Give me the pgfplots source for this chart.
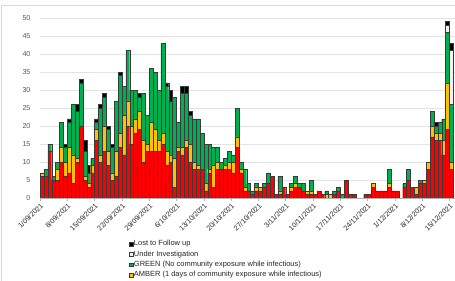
\documentclass[border=0pt]{standalone}
\usepackage{fontspec}
\setmainfont{Liberation Sans}
\usepackage{pgfplots}
\usepackage{pgfplotstable}
\pgfplotsset{compat=1.18}
\definecolor{cRed}{HTML}{FF0000}
\definecolor{cAmber}{HTML}{FFC000}
\definecolor{cGreen}{HTML}{00B050}
\definecolor{cUI}{HTML}{F2F2F2}
\definecolor{cLost}{HTML}{000000}
\definecolor{cTick}{HTML}{595959}
\definecolor{cGrid}{HTML}{E3E3E3}
\definecolor{cEdge}{HTML}{3A3A3A}
\pgfplotstableread{
k R A G U L
0 6 1 0 0 0
1 6 0 2 0 0
2 13 0 2 0 0
3 5 0 1 0 0
4 5 3 2 0 0
5 10 4 7 0 0
6 6 4 4 0 1
7 7 7 7 0 1
8 4 8 14 0 0
9 10 1 13 0 2
10 20 0 12 0 1
11 5 1 7 0 3
12 3 1 3 0 2
13 7 2 2 0 0
14 16 3 2 0 1
15 10 2 13 0 1
16 13 7 8 0 1
17 9 4 6 0 1
18 5 2 7 0 1
19 6 7 14 0 0
20 14 4 16 0 1
21 12 11 8 0 0
22 20 7 14 0 0
23 15 5 10 0 0
24 18 4 8 0 0
25 19 5 4 0 1
26 10 6 13 0 0
27 13 2 8 0 0
28 13 8 15 0 0
29 13 6 16 0 0
30 13 3 14 0 0
31 15 3 25 0 0
32 9 4 18 0 1
33 10 2 15 0 3
34 3 8 17 0 0
35 13 1 7 0 0
36 12 2 15 0 2
37 14 2 13 0 2
38 10 5 8 0 1
39 8 2 12 0 0
40 8 1 13 0 0
41 8 0 10 0 0
42 2 2 11 0 0
43 7 1 7 0 0
44 3 6 5 0 0
45 8 2 4 0 0
46 8 0 2 0 0
47 8 1 2 0 0
48 8 2 3 0 0
49 7 3 2 0 0
50 14 3 8 0 0
51 7 1 2 0 0
52 2 1 5 0 0
53 2 0 2 0 0
54 1 0 1 0 0
55 2 1 1 0 0
56 2 1 0 0 0
57 3 0 1 0 0
58 4 0 3 0 0
59 6 0 0 0 0
60 1 0 0 0 0
61 1 1 4 0 0
62 3 0 0 0 0
63 1 0 0 0 0
64 2 1 1 0 0
65 3 1 2 0 0
66 3 0 1 0 0
67 2 0 2 0 0
68 1 1 0 0 0
69 1 1 3 0 0
70 1 0 0 0 0
71 2 0 0 0 0
72 1 0 0 0 0
73 0 1 1 0 0
74 0 1 0 0 0
75 1 0 1 0 0
76 2 0 1 0 0
77 0 0 1 0 0
78 5 0 0 0 0
79 1 0 0 0 0
80 1 0 0 0 0
81 0 0 0 0 0
82 0 0 0 0 0
83 1 0 0 0 0
84 1 0 0 0 0
85 3 1 0 0 0
86 2 0 0 0 0
87 2 0 0 0 0
88 2 0 0 0 0
89 3 1 4 0 0
90 2 0 0 0 0
91 2 0 0 0 0
92 0 0 0 0 0
93 3 0 1 0 0
94 5 0 3 0 0
95 3 0 0 0 0
96 1 2 0 0 0
97 4 0 1 0 0
98 4 1 0 0 0
99 8 2 0 0 0
100 17 3 4 0 0
101 16 2 2 0 1
102 16 2 3 0 0
103 12 4 6 0 0
104 19 13 14 2 1
105 8 2 16 15 2
}\datatable
\begin{document}
\begin{tikzpicture}
\useasboundingbox (0,0) rectangle (455bp,281bp);
\draw[gray!30, line width=0.7bp] (1.5bp,-10bp) -- (1.5bp,276bp) -- (470bp,276bp);
\begin{axis}[
  at={(40bp,83bp)}, anchor=south west,
  scale only axis, width=414.6bp, height=180bp,
  xmin=0, xmax=106.3, ymin=0, ymax=50,
  ybar stacked, bar width=1,
  ytick={0,5,...,50},
  ymajorgrids, grid style={cGrid, line width=0.6bp},
  axis x line*=bottom, axis y line*=left,
  y axis line style={draw=none},
  x axis line style={draw=gray!60, line width=0.6bp},
  ytick style={draw=none},
  xtick={0,7,...,105},
  xticklabels={1/09/2021,8/09/2021,15/09/2021,22/09/2021,29/09/2021,6/10/2021,13/10/2021,20/10/2021,27/10/2021,3/11/2021,10/11/2021,17/11/2021,24/11/2021,1/12/2021,8/12/2021,15/12/2021},
  xtick style={draw=gray!60, line width=0.6bp},
  tick align=outside, major tick length=3bp,
  xtick pos=bottom,
  tick label style={font=\fontsize{7.2}{8}\selectfont, text=cTick},
  yticklabel style={xshift=-3bp},
  xticklabel style={rotate=45, anchor=north east, inner sep=1pt, text=black!85},
  /pgf/number format/assume math mode=true,
  every axis plot/.append style={draw=cEdge, line width=0.35bp},
  reverse legend,
  legend image code/.code={\draw[#1, draw=cEdge, line width=0.35bp] (0bp,-1.9bp) rectangle (3.8bp,1.9bp);},
  legend style={at={(0.2147,-0.232)}, anchor=north west, draw=none, fill=none,
    font=\fontsize{7.5}{9}\selectfont, text=black!85, row sep=2.2bp,
    inner sep=0pt, nodes={inner sep=0.6bp}},
  legend cell align=left,
]
\addplot[fill=cRed, forget plot] table[x expr=\thisrow{k}+0.5, y=R] {\datatable};
\addplot[fill=cAmber] table[x expr=\thisrow{k}+0.5, y=A] {\datatable};
\addlegendentry{AMBER (1 days of community exposure while infectious)}
\addplot[fill=cGreen] table[x expr=\thisrow{k}+0.5, y=G] {\datatable};
\addlegendentry{GREEN (No community exposure while infectious)}
\addplot[fill=cUI] table[x expr=\thisrow{k}+0.5, y=U] {\datatable};
\addlegendentry{Under Investigation}
\addplot[fill=cLost] table[x expr=\thisrow{k}+0.5, y=L] {\datatable};
\addlegendentry{Lost to Follow up}
\end{axis}
\end{tikzpicture}
\end{document}
